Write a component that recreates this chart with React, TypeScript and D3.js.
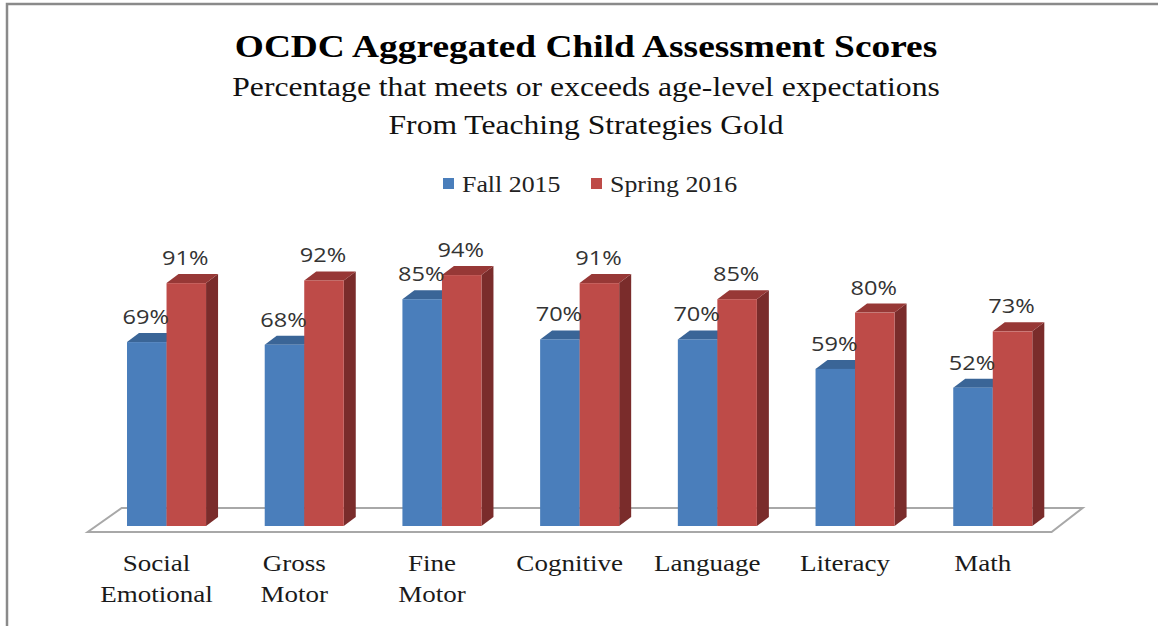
import { useEffect, useRef } from 'react';
import { select, scaleBand, scaleLinear } from 'd3';

const categories = [
  'Social Emotional',
  'Gross Motor',
  'Fine Motor',
  'Cognitive',
  'Language',
  'Literacy',
  'Math',
];
const seriesNames = ['Fall 2015', 'Spring 2016'];
const fall2015 = [69, 68, 85, 70, 70, 59, 52];
const spring2016 = [91, 92, 94, 91, 85, 80, 73];

const colors = {
  blue: { front: '#4a7ebb', top: '#3a6597', side: '#2f5482' },
  red: { front: '#be4b48', top: '#973836', side: '#7a2c2b' },
};

const WIDTH = 1158;
const HEIGHT = 626;
const STRETCH = 1.15; // text in the reference is a little wider than normal
const DX = 12; // 3d depth offset
const DY = -9;

export default function App() {
  const svgRef = useRef<SVGSVGElement>(null);

  useEffect(() => {
    if (!svgRef.current) return;
    const svg = select(svgRef.current);
    svg.selectAll('*').remove();

    svg.attr('width', WIDTH).attr('height', HEIGHT);

    // frame (left + top lines)
    svg.append('path')
      .attr('d', `M7,${HEIGHT} L7,4 L${WIDTH},4`)
      .attr('fill', 'none')
      .attr('stroke', '#8a8a8a')
      .attr('stroke-width', 2.5);

    const stretchedText = (x: number, y: number, txt: string, opts: {
      size: number; family: string; weight?: string; anchor?: string; fill?: string;
    }) => svg.append('text')
      .attr('transform', `translate(${x},${y}) scale(${STRETCH},1)`)
      .attr('text-anchor', opts.anchor || 'middle')
      .attr('font-family', opts.family)
      .attr('font-size', opts.size)
      .attr('font-weight', opts.weight || 'normal')
      .attr('fill', opts.fill || '#000')
      .text(txt);

    const serif = '"Liberation Serif", "Times New Roman", serif';
    const sans = '"Open Sans", "Liberation Sans", sans-serif';

    // Titles
    stretchedText(586, 57, 'OCDC Aggregated Child Assessment Scores', { size: 32.5, family: serif, weight: 'bold' });
    stretchedText(586, 96, 'Percentage that meets or exceeds age-level expectations', { size: 27.5, family: serif, fill: '#111' });
    stretchedText(586, 134, 'From Teaching Strategies Gold', { size: 27.5, family: serif, fill: '#111' });

    // Legend
    const legendX = [443, 591];
    seriesNames.forEach((name, i) => {
      svg.append('rect')
        .attr('x', legendX[i])
        .attr('y', 178)
        .attr('width', 11)
        .attr('height', 11)
        .attr('fill', i === 0 ? colors.blue.front : colors.red.front);
      stretchedText(legendX[i] + 19, 192, name, { size: 22.5, family: serif, anchor: 'start', fill: '#222' });
    });

    // Scales
    const xScale = scaleBand<string>()
      .domain(categories)
      .range([85.7, 1073.6])
      .paddingInner(0.426)
      .paddingOuter(0.3);

    const xSeries = scaleBand<string>()
      .domain(seriesNames)
      .range([0, xScale.bandwidth()])
      .padding(0);

    const yScale = scaleLinear().domain([0, 100]).range([527, 259]);

    // Floor
    const [r0, r1] = xScale.range();
    const floorFront = 532;
    const floorBack = 508;
    svg.append('path')
      .attr('d', `M${r0 + 2},${floorFront} L${r1 - 22},${floorFront} L${r1 + 9},${floorBack} L${r0 + 36},${floorBack} Z`)
      .attr('fill', '#fff')
      .attr('stroke', '#a8a8a8')
      .attr('stroke-width', 2);

    const y0 = yScale(0) - 1;
    const w = xSeries.bandwidth();

    const drawBar = (x: number, v: number, c: { front: string; top: string; side: string }) => {
      const yt = yScale(v);
      const g = svg.append('g');
      // side
      g.append('path')
        .attr('d', `M${x + w},${yt} L${x + w + DX},${yt + DY} L${x + w + DX},${y0 + DY} L${x + w},${y0} Z`)
        .attr('fill', c.side);
      // top
      g.append('path')
        .attr('d', `M${x},${yt} L${x + DX},${yt + DY} L${x + w + DX},${yt + DY} L${x + w},${yt} Z`)
        .attr('fill', c.top);
      // front
      g.append('rect')
        .attr('x', x)
        .attr('y', yt)
        .attr('width', w)
        .attr('height', y0 - yt)
        .attr('fill', c.front);
    };

    categories.forEach((cat, i) => {
      const gx = xScale(cat) || 0;
      const bx = gx + (xSeries(seriesNames[0]) || 0);
      const rx = gx + (xSeries(seriesNames[1]) || 0);
      drawBar(bx, fall2015[i], colors.blue);
      drawBar(rx, spring2016[i], colors.red);
    });

    // Value labels
    categories.forEach((cat, i) => {
      const gx = xScale(cat) || 0;
      [fall2015[i], spring2016[i]].forEach((v, s) => {
        const x = gx + (xSeries(seriesNames[s]) || 0) + w / 2 - 1;
        const y = yScale(v) + DY - 9;
        stretchedText(x, y, `${v}%`, { size: 20.5, family: sans, fill: '#333' });
      });
    });

    // Category labels
    categories.forEach((cat) => {
      const cx = (xScale(cat) || 0) + xScale.bandwidth() / 2 - 10;
      const words = cat.split(' ');
      words.forEach((word, j) => {
        stretchedText(cx, 571 + j * 31, word, { size: 23.5, family: serif, fill: '#1a1a1a' });
      });
    });
  }, []);

  return (
    <div style={{ position: 'absolute', left: 0, top: 0, width: WIDTH, height: HEIGHT, background: '#fff' }}>
      <svg ref={svgRef} style={{ display: 'block' }} />
    </div>
  );
}
